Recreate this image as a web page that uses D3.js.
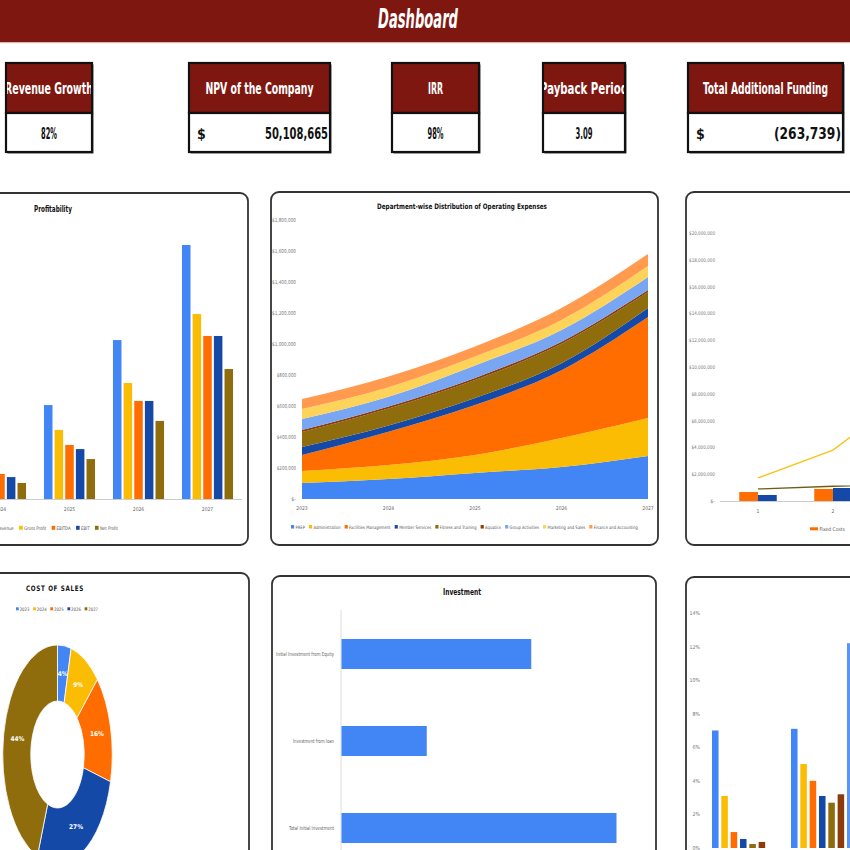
<!DOCTYPE html>
<html><head><meta charset="utf-8">
<script src="https://cdn.jsdelivr.net/npm/d3@7/dist/d3.min.js"></script>
<style>
html,body{margin:0;padding:0;background:#fff;overflow:hidden}
svg{display:block}
text{font-family:"Liberation Sans Narrow","DejaVu Sans Condensed","Roboto",sans-serif}
</style></head><body>
<svg id="c" width="850" height="850"></svg>
<script>
// ---------------- DATA ----------------
const dashboardTitle = "Dashboard";
const kpiTitles = ["Revenue Growth","NPV of the Company","IRR","Payback Period","Total Additional Funding"];
const kpiValues = ["82%","50,108,665","98%","3.09","(263,739)"];
const kpiCurrency = [false,true,false,false,true];

const years = ["2023","2024","2025","2026","2027"];
const profitSeries = ["Revenue","Gross Profit","EBITDA","EBIT","Net Profit"];
const revenue     = [0.90,2.10,4.80,8.12,12.98];
const grossProfit = [0.70,1.60,3.53,5.93,9.45];
const ebitda      = [0.50,1.28,2.76,5.01,8.33];
const ebit        = [0.45,1.12,2.55,5.01,8.33];
const netProfit   = [0.35,0.82,2.04,3.99,6.64];

const departments = ["PREP","Administration","Facilities Management","Member Services","Fitness and Training","Aquatics","Group Activities","Marketing and Sales","Finance and Accounting"];
const prep            = [103000,129000,168000,206000,277000];
const administration  = [78000,90000,116000,188000,246000];
const facilities      = [103000,215000,322000,437000,651000];
const memberServices  = [51000,40000,46000,45000,58000];
const fitness         = [97000,110000,116000,125000,103000];
const aquatics        = [13000,13000,13000,14000,13000];
const groupActivities = [71000,62000,80000,75000,84000];
const marketing       = [65000,62000,58000,65000,71000];
const finance         = [64000,70000,65000,77000,78000];
const deptTicks = [0,200000,400000,600000,800000,1000000,1200000,1400000,1600000,1800000];

const periods = ["1","2","3"];
const costSeries = ["Fixed Costs","Variable Costs"];
const fixedCosts    = [670000,900000,1100000];
const variableCosts = [450000,970000,1900000];
const revenueLine   = [1720000,3800000,8000000];
const totalCostLine = [900000,1100000,1250000];
const costTicks = [0,2000000,4000000,6000000,8000000,10000000,12000000,14000000,16000000,18000000,20000000];

const cosYears = ["2023","2024","2025","2026","2027"];
const cosShare = [4,9,16,27,44];

const investItems  = ["Initial Investment from Equity","Investment from loan","Total Initial Investment"];
const investValues = [690000,310000,1000000];

const ratioCats = ["2023","2024"];
const ratio1 = [7.0,7.1];
const ratio2 = [3.1,5.0];
const ratio3 = [0.95,4.0];
const ratio4 = [0.54,3.1];
const ratio5 = [0.24,2.7];
const ratio6 = [0.36,3.2];
const ratio7 = [0,12.2];
const ratioTicks = [0,2,4,6,8,10,12,14];

// ---------------- STYLE ----------------
const C = {blue:"#4285f4",yellow:"#fbbc04",orange:"#ff6d01",dblue:"#1449a8",olive:"#8f6c0c",brown:"#8c3c0a",lblue:"#78a6f2",lyellow:"#fdd35a",lorange:"#ff9a4f"};
const red = "#7f1711";

const svg = d3.select("#c");

function legend(names, colors, y, fs, o={}){
  const lg = svg.append("g");
  const ms=o.ms||4, mw=o.mw||ms, gap=o.gap!=null?o.gap:1.5, ig=o.ig!=null?o.ig:5;
  let x=0;
  names.forEach((n,i)=>{
    lg.append("rect").attr("x",x).attr("y",y-ms/2-1.2).attr("width",mw).attr("height",ms).attr("fill",colors[i]);
    x+=mw+gap;
    const t=lg.append("text").attr("x",x).attr("y",y+0.6).attr("font-size",fs).attr("fill","#555").text(n);
    x+=t.node().getComputedTextLength()+ig;
  });
  x-=ig;
  const s = o.width ? o.width/x : 1;
  lg.attr("transform",`translate(${o.left},0) scale(${s},1)`);
}
function title(txt,x,y,fs,len,extra){
  const t=svg.append("text").attr("x",x).attr("y",y).attr("text-anchor","middle").attr("font-size",fs)
    .attr("font-weight","bold").attr("fill","#111").text(txt);
  if(len) t.attr("textLength",len).attr("lengthAdjust","spacingAndGlyphs");
  if(extra) t.attr("letter-spacing",extra);
  return t;
}
function tick(txt,x,y,fs,len){
  const t=svg.append("text").attr("x",x).attr("y",y).attr("text-anchor","end").attr("font-size",fs).attr("fill","#777").text(txt);
  if(len) t.attr("textLength",len).attr("lengthAdjust","spacingAndGlyphs");
}

// ---------------- HEADER ----------------
svg.append("rect").attr("x",0).attr("y",0).attr("width",850).attr("height",42).attr("fill",red);
svg.append("rect").attr("x",0).attr("y",42).attr("width",850).attr("height",1.2).attr("fill","#e0b7b3");
svg.append("text").attr("x",418).attr("y",28).attr("text-anchor","middle").attr("fill","#fff")
  .attr("font-size",26).attr("font-weight","bold").attr("font-style","italic")
  .attr("textLength",80).attr("lengthAdjust","spacingAndGlyphs").text(dashboardTitle);

// ---------------- KPI BOXES ----------------
const kpiBox = [{x:6,w:86,tl:88,vl:16},{x:189,w:141,tl:108,vl:63},{x:392,w:87,tl:15,vl:16},{x:543,w:82,tl:88,vl:17},{x:688,w:155,tl:125,vl:67}];
const defs = svg.append("defs");
kpiTitles.forEach((t,i)=>{
  const b=kpiBox[i];
  defs.append("clipPath").attr("id","kc"+i).append("rect").attr("x",b.x+1).attr("y",63).attr("width",b.w-2).attr("height",90);
  const g=svg.append("g");
  g.append("rect").attr("x",b.x+1.5).attr("y",64.5).attr("width",b.w).attr("height",89).attr("fill","#555");
  g.append("rect").attr("x",b.x).attr("y",63).attr("width",b.w).attr("height",50).attr("fill",red).attr("stroke","#111").attr("stroke-width",2.2);
  g.append("rect").attr("x",b.x).attr("y",113).attr("width",b.w).attr("height",39).attr("fill","#fff").attr("stroke","#111").attr("stroke-width",2.2);
  const cg=g.append("g").attr("clip-path",`url(#kc${i})`);
  cg.append("text").attr("x",b.x+b.w/2).attr("y",94).attr("text-anchor","middle").attr("fill","#fff")
    .attr("font-size",15.5).attr("font-weight","bold").attr("textLength",b.tl).attr("lengthAdjust","spacingAndGlyphs").text(t);
  if(kpiCurrency[i]){
    cg.append("text").attr("x",b.x+8).attr("y",139).attr("font-size",14).attr("font-weight","bold").attr("fill","#111").text("$");
    cg.append("text").attr("x",b.x+b.w-2).attr("y",139).attr("text-anchor","end").attr("font-size",15.5).attr("font-weight","bold").attr("fill","#111")
      .attr("textLength",b.vl).attr("lengthAdjust","spacingAndGlyphs").text(kpiValues[i]);
  } else {
    cg.append("text").attr("x",b.x+b.w/2).attr("y",139).attr("text-anchor","middle").attr("font-size",15.5).attr("font-weight","bold").attr("fill","#111")
      .attr("textLength",b.vl).attr("lengthAdjust","spacingAndGlyphs").text(kpiValues[i]);
  }
});

// ---------------- PANELS ----------------
function panel(x,y,w,h){
  svg.append("rect").attr("x",x).attr("y",y).attr("width",w).attr("height",h).attr("rx",8)
    .attr("fill","#fff").attr("stroke","#333").attr("stroke-width",1.8);
}
panel(-140,193,388,352);
panel(271,192,387,353);
panel(686,192,420,353);
panel(-140,573,389,330);
panel(272,576,384,330);
panel(686,577,420,330);

// ---------------- PROFITABILITY ----------------
{
  title("Profitability",53,212,8.5,38);
  const series=[revenue,grossProfit,ebitda,ebit,netProfit];
  const cols=[C.blue,C.yellow,C.orange,C.dblue,C.olive];
  const x0=d3.scaleBand().domain(years).range([-103,242]).paddingInner(0.26).paddingOuter(0.13);
  const x1=d3.scaleBand().domain(profitSeries).range([0,x0.bandwidth()]).paddingInner(0.2);
  const y=d3.scaleLinear().domain([0,14]).range([499,225]);
  svg.append("line").attr("x1",-103).attr("x2",242).attr("y1",499.5).attr("y2",499.5).attr("stroke","#ccc");
  years.forEach((yr,j)=>{
    profitSeries.forEach((s,k)=>{
      svg.append("rect").attr("x",x0(yr)+x1(s)).attr("y",y(series[k][j])).attr("width",x1.bandwidth())
        .attr("height",y(0)-y(series[k][j])).attr("fill",cols[k]);
    });
    svg.append("text").attr("x",x0(yr)+x0.bandwidth()/2).attr("y",511).attr("text-anchor","middle").attr("font-size",5).attr("fill","#666").text(yr);
  });
  legend(profitSeries,cols,529,4.8,{ms:4,ig:6,left:-8,width:126});
}

// ---------------- DEPARTMENT AREA ----------------
{
  title("Department-wise Distribution of Operating Expenses",462,209,7.5,170);
  const arrs=[prep,administration,facilities,memberServices,fitness,aquatics,groupActivities,marketing,finance];
  const cols=[C.blue,C.yellow,C.orange,C.dblue,C.olive,C.brown,C.lblue,C.lyellow,C.lorange];
  const rows=years.map((yr,j)=>{const r={year:yr};departments.forEach((d,k)=>r[d]=arrs[k][j]);return r;});
  const stack=d3.stack().keys(departments)(rows);
  const x=d3.scalePoint().domain(years).range([302,648]);
  const y=d3.scaleLinear().domain([0,1800000]).range([499,220]);
  const area=d3.area().x(d=>x(d.data.year)).y0(d=>y(d[0])).y1(d=>y(d[1])).curve(d3.curveMonotoneX);
  svg.append("g").selectAll("path").data(stack).join("path").attr("d",area).attr("fill",(d,i)=>cols[i]);
  const fmt=v=>v===0?"$-":"$"+d3.format(",")(v);
  deptTicks.forEach(t=>{const s=fmt(t); tick(s,296,y(t)+2,5.3,s.length*2.4);});
  years.forEach(yr=>svg.append("text").attr("x",x(yr)).attr("y",510).attr("text-anchor","middle").attr("font-size",5).attr("fill","#666").text(yr));
  legend(departments,cols,528,4.6,{ms:3.5,ig:4.5,left:291,width:347});
}

// ---------------- COST CHART (right top) ----------------
{
  const x0=d3.scaleBand().domain(periods).range([720.5,945.5]).paddingInner(0.5).paddingOuter(0.25);
  const x1=d3.scaleBand().domain(costSeries).range([0,x0.bandwidth()]);
  const y=d3.scaleLinear().domain([0,20000000]).range([501,233]);
  const fmt=v=>v===0?"$-":"$"+d3.format(",")(v);
  costTicks.forEach(t=>{const s=fmt(t); tick(s,715,y(t)+2,5.2,s.length*2.36);});
  svg.append("line").attr("x1",720).attr("x2",945).attr("y1",501.5).attr("y2",501.5).attr("stroke","#ccc");
  const bars=[fixedCosts,variableCosts], cols=[C.orange,C.dblue];
  periods.forEach((p,j)=>{
    costSeries.forEach((s,k)=>{
      svg.append("rect").attr("x",x0(p)+x1(s)).attr("y",y(bars[k][j])).attr("width",x1.bandwidth()).attr("height",y(0)-y(bars[k][j])).attr("fill",cols[k]);
    });
    svg.append("text").attr("x",x0(p)+x0.bandwidth()/2).attr("y",513).attr("text-anchor","middle").attr("font-size",5).attr("fill","#666").text(p);
  });
  const line=d3.line().x((d,i)=>x0(periods[i])+x0.bandwidth()/2).y(d=>y(d));
  svg.append("path").attr("d",line(totalCostLine)).attr("fill","none").attr("stroke","#6b5d16").attr("stroke-width",1.3);
  svg.append("path").attr("d",line(revenueLine)).attr("fill","none").attr("stroke","#f5c518").attr("stroke-width",1.4);
  legend(["Fixed Costs"],[C.orange],530,5,{ms:3,mw:8,gap:1.5,left:810});
}

// ---------------- COST OF SALES DONUT ----------------
{
  title("COST OF SALES",55,591,7.5,58,0.8);
  const cols=[C.blue,C.yellow,C.orange,C.dblue,C.olive];
  legend(cosYears,cols,610,4.6,{ms:3,gap:1,ig:4,left:16,width:82});
  const pie=d3.pie().sort(null).value(d=>d);
  const arcs=pie(cosShare);
  const arc=d3.arc().innerRadius(53.5).outerRadius(109.5);
  const g=svg.append("g").attr("transform","translate(57.5,754.5) scale(0.5,1)");
  g.selectAll("path").data(arcs).join("path").attr("d",arc).attr("fill",(d,i)=>cols[i])
    .attr("stroke","#fff").attr("stroke-width",0.8).attr("vector-effect","non-scaling-stroke");
  const mid=d3.arc().innerRadius(81.5).outerRadius(81.5);
  arcs.forEach(a=>{
    const [cx,cy]=mid.centroid(a);
    svg.append("text").attr("x",57.5+cx*0.5).attr("y",754.5+cy+2.2).attr("text-anchor","middle").attr("font-size",6.5)
      .attr("font-weight","bold").attr("fill","#fff").text(a.data+"%");
  });
}

// ---------------- INVESTMENT ----------------
{
  title("Investment",462,595,8.5,38);
  const y=d3.scaleBand().domain(investItems).range([610.5,871.5]).paddingInner(0.655).paddingOuter(0.3275);
  const x=d3.scaleLinear().domain([0,1200000]).range([341,671]);
  svg.append("line").attr("x1",341).attr("x2",341).attr("y1",610).attr("y2",872).attr("stroke","#ddd");
  const lens=[58,41,45];
  investItems.forEach((it,i)=>{
    svg.append("rect").attr("x",x(0)+0.5).attr("y",y(it)).attr("width",x(investValues[i])-x(0)).attr("height",y.bandwidth()).attr("fill",C.blue);
    svg.append("text").attr("x",334).attr("y",y(it)+y.bandwidth()/2+2).attr("text-anchor","end").attr("font-size",5.5).attr("fill","#666")
      .attr("textLength",lens[i]).attr("lengthAdjust","spacingAndGlyphs").text(it);
  });
}

// ---------------- RATIO BARS (right bottom) ----------------
{
  const series=[ratio1,ratio2,ratio3,ratio4,ratio5,ratio6,ratio7];
  const cols=[C.blue,C.yellow,C.orange,C.dblue,C.olive,C.brown,"#5b95f3"];
  const keys=series.map((s,i)=>"s"+i);
  const x0=d3.scaleBand().domain(ratioCats).range([703.75,861.75]).paddingInner(0.209).paddingOuter(0.1045);
  const x1=d3.scaleBand().domain(keys).range([0,x0.bandwidth()]).paddingInner(0.3).paddingOuter(0);
  const y=d3.scaleLinear().domain([0,14]).range([848,613]);
  ratioTicks.forEach(t=>tick(t+"%",700,y(t)+2,5.3));
  ratioCats.forEach((c,j)=>{
    keys.forEach((k,i)=>{
      svg.append("rect").attr("x",x0(c)+x1(k)).attr("y",y(series[i][j])).attr("width",x1.bandwidth()).attr("height",y(0)-y(series[i][j])).attr("fill",cols[i]);
    });
  });
}
</script>
</body></html>
